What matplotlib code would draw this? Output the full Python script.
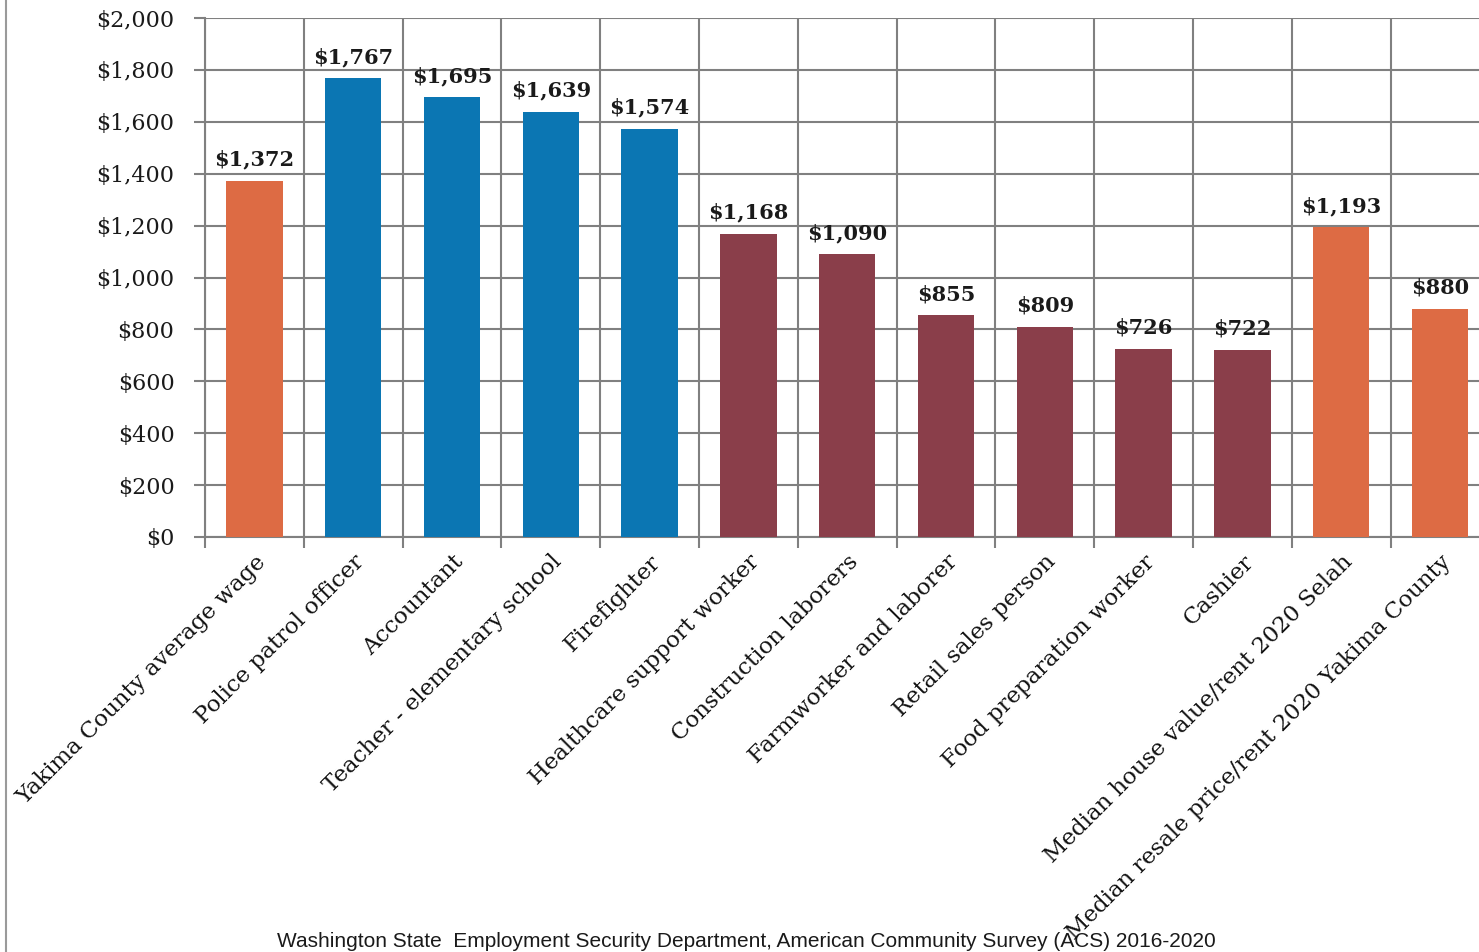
import matplotlib
matplotlib.use("Agg")
import matplotlib.pyplot as plt
from matplotlib.lines import Line2D
from matplotlib import font_manager
from matplotlib.ticker import FuncFormatter, MultipleLocator, FixedLocator

categories = [
    "Yakima County average wage",
    "Police patrol officer",
    "Accountant",
    "Teacher - elementary school",
    "Firefighter",
    "Healthcare support worker",
    "Construction laborers",
    "Farmworker and laborer",
    "Retail sales person",
    "Food preparation worker",
    "Cashier",
    "Median house value/rent 2020 Selah",
    "Median resale price/rent 2020 Yakima County",
]
values = [1372, 1767, 1695, 1639, 1574, 1168, 1090, 855, 809, 726, 722, 1193, 880]
groups = ["ref", "high", "high", "high", "high",
          "low", "low", "low", "low", "low", "low", "ref", "ref"]
group_colors = {"ref": "#DD6B44", "high": "#0B76B3", "low": "#8A3E4A"}
source = "Washington State  Employment Security Department, American Community Survey (ACS) 2016-2020"

serif = "DejaVu Serif"
available = {f.name for f in font_manager.fontManager.ttflist}
narrow = "Liberation Sans Narrow" if "Liberation Sans Narrow" in available else "Liberation Sans"

W, H = 1479, 952
fig = plt.figure(figsize=(W / 100, H / 100), dpi=100)
fig.patch.set_facecolor("white")

# axes box in pixel terms: x 205..1489, y 18..537
left, right = 205, 205 + 13 * 98.8
top, bottom = 18, 537
ax = fig.add_axes([left / W, 1 - bottom / H, (right - left) / W, (bottom - top) / H])

grid_color = "#808080"
x = list(range(len(categories)))
colors = [group_colors[g] for g in groups]
bars = ax.bar(x, values, width=0.57, color=colors, zorder=3)

for xi, v in zip(x, values):
    ax.annotate(f"${v:,}", (xi, v), xytext=(0, 8), textcoords="offset points",
                ha="center", va="bottom", fontsize=15, fontweight="bold",
                family=serif, color="#1a1a1a", zorder=4)

ax.set_xlim(-0.5, len(categories) - 0.5)
ax.set_ylim(0, 2000)
ax.yaxis.set_major_locator(MultipleLocator(200))
ax.yaxis.set_major_formatter(FuncFormatter(lambda v, p: f"${v:,.0f}"))

# category boundaries carry the vertical grid and the outward tick marks
ax.xaxis.set_major_locator(FixedLocator([i + 0.5 for i in range(-1, len(categories))]))
ax.xaxis.set_major_formatter(FuncFormatter(lambda v, p: ""))
ax.set_xticks(x, minor=True)
ax.set_xticklabels(categories, minor=True, rotation=45, ha="right", va="top",
                   rotation_mode="anchor", fontsize=16.5, family=serif, color="#111111")
ax.tick_params(axis="x", which="minor", length=0, pad=10)
ax.tick_params(axis="x", which="major", length=8, width=1.5, color=grid_color)
ax.tick_params(axis="y", length=8, width=1.5, color=grid_color, pad=14,
               labelsize=16, labelcolor="#1a1a1a")
for lab in ax.get_yticklabels():
    lab.set_family(serif)

ax.grid(True, which="major", color=grid_color, linewidth=1.5, zorder=0)
ax.set_axisbelow(True)
for side in ["top", "right"]:
    ax.spines[side].set_visible(False)
for side in ["left", "bottom"]:
    ax.spines[side].set_color(grid_color)
    ax.spines[side].set_linewidth(1.5)

# source note
fig.text(277 / W, 1 - 947 / H, source, ha="left", va="baseline",
         fontsize=15, family=narrow, color="#1a1a1a")

# page border on the left
fig.add_artist(Line2D([6 / W, 6 / W], [0, 1], transform=fig.transFigure,
                      color="#9a9a9a", linewidth=1.5))

fig.savefig("out.png", dpi=100, facecolor="white")
